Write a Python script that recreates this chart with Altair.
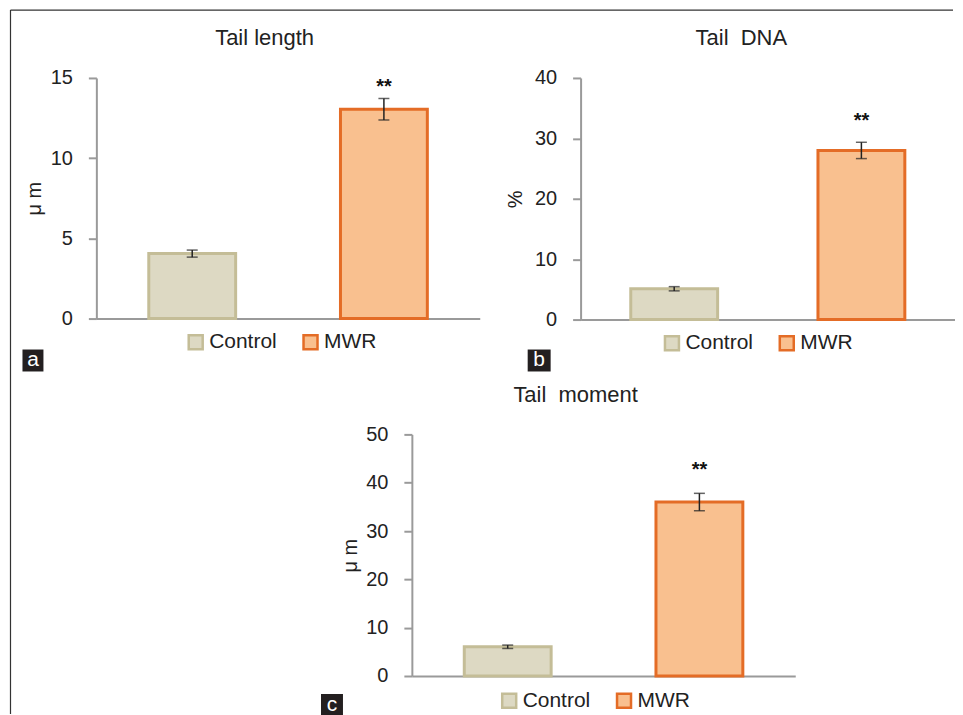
import altair as alt
import pandas as pd

# ---------------- data ----------------
groups = ["Control", "MWR"]

tail_length = [4.05, 13.05]
tail_length_err = [0.22, 0.67]
tail_length_sig = [None, 14.77]

tail_dna = [5.1, 28.0]
tail_dna_err = [0.35, 1.35]
tail_dna_sig = [None, 33.8]

tail_moment = [6.05, 36.0]
tail_moment_err = [0.35, 1.8]
tail_moment_sig = [None, 43.7]

sig_text = ["", "**"]

length_ticks = [0, 5, 10, 15]
dna_ticks = [0, 10, 20, 30, 40]
moment_ticks = [0, 10, 20, 30, 40, 50]

# ---------------- style ----------------
FONT = "Liberation Sans"
TXT = "#222222"
AXIS = "#9a9a9a"
fill_colors = ["#DDD9C3", "#F9C08F"]
stroke_colors = ["#C4BD97", "#E46C26"]


def panel(title, ytitle, means, errs, sig, ticks, width, height,
          title_xy, legend_xy, box, letter, title_pad, frame=False):
    df = pd.DataFrame({"group": groups, "mean": means, "err": errs,
                       "star": sig, "sig": sig_text})
    xenc = alt.X("group:N", scale=alt.Scale(domain=groups, paddingInner=0, paddingOuter=0),
                 axis=alt.Axis(title=None, labels=False, ticks=False, domain=True))
    yscale = alt.Scale(domain=[ticks[0], ticks[-1]], nice=False, zero=True)
    yaxis = alt.Axis(values=ticks, title=ytitle, titlePadding=title_pad, labelFlush=False)

    def Y(field):
        return alt.Y(field, type="quantitative", scale=yscale, axis=yaxis)

    leg = alt.Legend(orient="none", legendX=legend_xy[0], legendY=legend_xy[1],
                     direction="horizontal", title=None, symbolType="square",
                     symbolSize=196, symbolStrokeWidth=2.5, labelFont=FONT,
                     labelFontSize=21, labelColor=TXT, labelOffset=3,
                     columnPadding=21, padding=0, symbolOpacity=1)

    base = alt.Chart(df).encode(x=xenc)
    bars = base.mark_bar(size=87, strokeWidth=3).encode(
        y=Y("mean"),
        fill=alt.Fill("group:N", scale=alt.Scale(domain=groups, range=fill_colors), legend=leg),
        stroke=alt.Stroke("group:N", scale=alt.Scale(domain=groups, range=stroke_colors), legend=leg),
    )
    eb = base.transform_calculate(lo="datum.mean - datum.err", hi="datum.mean + datum.err")
    rule = eb.mark_rule(color=TXT, strokeWidth=1.5).encode(y=Y("lo"), y2="hi:Q")
    cap_lo = eb.mark_tick(color=TXT, thickness=1.5, size=11).encode(y=Y("lo"))
    cap_hi = eb.mark_tick(color=TXT, thickness=1.5, size=11).encode(y=Y("hi"))
    star = base.transform_filter("datum.sig != ''").mark_text(
        font=FONT, fontSize=20, fontWeight="bold", color="#111111", align="center",
        baseline="alphabetic", dy=11.5
    ).encode(y=Y("star"), text="sig:N")

    dec = alt.Chart(alt.Data(values=[{"k": 1}]))
    ttl = dec.mark_text(text=title, font=FONT, fontSize=22, color=TXT,
                        align="center", baseline="alphabetic").encode(
        x=alt.value(title_xy[0]), y=alt.value(title_xy[1]))
    lbox = dec.mark_rect(color="#231F20").encode(
        x=alt.value(box[0]), x2=alt.value(box[1]), y=alt.value(box[2]), y2=alt.value(box[3]))
    ltxt = dec.mark_text(text=letter, font=FONT, fontSize=21, color="white",
                         align="center", baseline="middle").encode(
        x=alt.value((box[0] + box[1]) / 2), y=alt.value(box[2] + 11))
    layers = [bars, rule, cap_lo, cap_hi, star, ttl, lbox, ltxt]
    if frame:
        top = dec.mark_rule(color="#333333", strokeWidth=1.2).encode(
            x=alt.value(-86), x2=alt.value(858), y=alt.value(-68))
        left = dec.mark_rule(color="#333333", strokeWidth=1.2).encode(
            x=alt.value(-86), y=alt.value(-68), y2=alt.value(637))
        layers += [top, left]
    return alt.layer(*layers).properties(width=width, height=height)


pa = panel("Tail length", "μ m", tail_length, tail_length_err, tail_length_sig,
           length_ticks, 384, 241, (168.5, -33), (89, 254), (-74, -53, 272, 294), "a", 6, frame=True)
pb = panel("Tail\u00a0\u00a0DNA", "%", tail_dna, tail_dna_err, tail_dna_sig,
           dna_ticks, 375, 242, (161, -33), (81, 255), (-53, -30, 272, 294), "b", 9)
pc = panel("Tail\u00a0\u00a0moment", "μ m", tail_moment, tail_moment_err, tail_moment_sig,
           moment_ticks, 384, 242, (164, -32), (87, 256), (-91, -69, 260, 282), "c", 5)

spacer = alt.Chart(alt.Data(values=[{"k": 1}])).mark_point(opacity=0).encode(
    x=alt.value(0), y=alt.value(0)).properties(width=316, height=242)

res = dict(fill="independent", stroke="independent")
row1 = alt.hconcat(pa, pb, spacing=101, bounds="flush").resolve_scale(**res).resolve_legend(fill="independent", stroke="independent")
row2 = alt.hconcat(spacer, pc, spacing=0, bounds="flush").resolve_scale(**res).resolve_legend(fill="independent", stroke="independent")

chart = alt.vconcat(row1, row2, spacing=357, bounds="flush").resolve_scale(**res).resolve_legend(
    fill="independent", stroke="independent"
).properties(
    padding={"left": 1.5, "top": 0.5, "right": 0, "bottom": 0},
    background="white",
).configure_view(stroke=None).configure_axis(
    domainColor=AXIS, tickColor=AXIS, domainWidth=2, tickWidth=2, tickSize=8,
    labelPadding=16, labelFont=FONT, labelFontSize=20, labelColor=TXT,
    titleFont=FONT, titleFontSize=20, titleFontWeight="normal", titleColor=TXT,
    grid=False,
)

chart.save("out.html", embed_options={"renderer": "svg", "actions": False})
